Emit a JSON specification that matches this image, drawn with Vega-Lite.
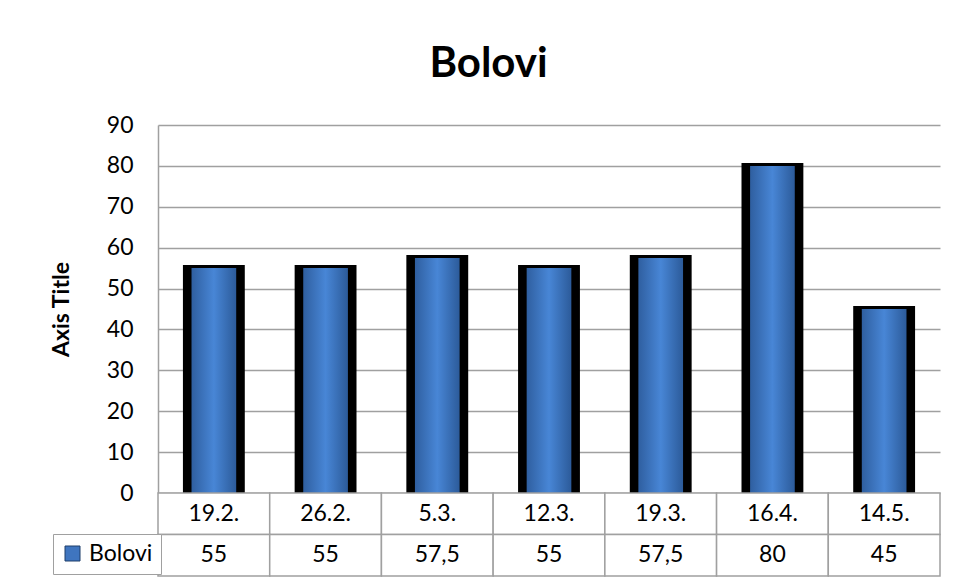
{
  "$schema": "https://vega.github.io/schema/vega-lite/v6.json",
  "background": "white",
  "padding": {"left": 50, "top": 43, "right": 5, "bottom": 5},
  "bounds": "flush",
  "title": {"text": "Bolovi", "font": "Lato", "fontSize": 42, "fontWeight": "bold", "color": "black", "anchor": "middle", "dx": -7, "offset": 28},
  "datasets": {
    "bolovi": [
      {"date": "19.2.", "v": 55},
      {"date": "26.2.", "v": 55},
      {"date": "5.3.", "v": 57.5},
      {"date": "12.3.", "v": 55},
      {"date": "19.3.", "v": 57.5},
      {"date": "16.4.", "v": 80},
      {"date": "14.5.", "v": 45}
    ]
  },
  "config": {
    "locale": {"number": {"decimal": ",", "thousands": ".", "grouping": [3], "currency": ["", " €"]}},
    "view": {"stroke": null},
    "font": "Lato"
  },
  "spacing": 0,
  "resolve": {"legend": {"color": "independent"}},
  "vconcat": [
    {
      "width": 782,
      "height": 368,
      "data": {"name": "bolovi"},
      "encoding": {
        "x": {"field": "date", "type": "nominal", "sort": null, "axis": null, "scale": {"paddingInner": 0, "paddingOuter": 0}}
      },
      "layer": [
        {
          "mark": {"type": "bar", "color": "black", "stroke": "black", "strokeWidth": 6, "width": {"band": 0.5}},
          "encoding": {
            "y": {
              "field": "v", "type": "quantitative",
              "scale": {"domain": [0, 90], "nice": false},
              "axis": {
                "title": "Axis Title", "titleFont": "Lato", "titleFontSize": 23, "titleFontWeight": "bold", "titleColor": "black", "titlePadding": 33,
                "values": [0, 10, 20, 30, 40, 50, 60, 70, 80, 90],
                "labelFont": "Lato", "labelFontSize": 23, "labelColor": "black", "labelPadding": 25,
                "ticks": false, "domainColor": "#a0a0a0", "domainWidth": 1.5,
                "grid": true, "gridColor": "#a0a0a0", "gridWidth": 1.5
              }
            }
          }
        },
        {
          "mark": {
            "type": "bar", "width": {"band": 0.4},
            "color": {"gradient": "linear", "x1": 0, "y1": 0, "x2": 1, "y2": 0,
              "stops": [{"offset": 0, "color": "#2f5fa0"}, {"offset": 0.5, "color": "#4886d6"}, {"offset": 1, "color": "#2c5b9a"}]}
          },
          "encoding": {"y": {"field": "v", "type": "quantitative"}}
        }
      ]
    },
    {
      "width": 782,
      "height": 83,
      "data": {"name": "bolovi"},
      "encoding": {
        "x": {"field": "date", "type": "nominal", "sort": null, "axis": null, "scale": {"paddingInner": 0, "paddingOuter": 0}}
      },
      "layer": [
        {
          "mark": {"type": "rect", "fill": "white", "stroke": "#a0a0a0", "strokeWidth": 1.5},
          "encoding": {"y": {"datum": "d", "type": "nominal", "axis": null, "scale": {"domain": ["d", "v"], "paddingInner": 0, "paddingOuter": 0}}}
        },
        {
          "mark": {"type": "rect", "fill": "white", "stroke": "#a0a0a0", "strokeWidth": 1.5},
          "encoding": {"y": {"datum": "v", "type": "nominal"}}
        },
        {
          "mark": {"type": "text", "font": "Lato", "fontSize": 23, "color": "black"},
          "encoding": {"y": {"datum": "d", "type": "nominal"}, "text": {"field": "date", "type": "nominal"}}
        },
        {
          "mark": {"type": "text", "font": "Lato", "fontSize": 23, "color": "black"},
          "encoding": {"y": {"datum": "v", "type": "nominal"}, "text": {"field": "v", "type": "quantitative", "format": "~g"}}
        },
        {
          "mark": {"type": "square", "opacity": 0, "filled": true},
          "encoding": {
            "y": {"datum": "v", "type": "nominal"},
            "color": {
              "datum": "Bolovi", "type": "nominal",
              "scale": {"range": ["#3f75bf"]},
              "legend": {
                "orient": "none", "legendX": -105, "legendY": 41, "title": null,
                "symbolType": "square", "symbolSize": 225, "symbolOpacity": 1,
                "symbolStrokeColor": "#1f3f6b", "symbolStrokeWidth": 1,
                "labelFont": "Lato", "labelFontSize": 23, "labelColor": "black", "labelOffset": 5,
                "padding": 8, "strokeColor": "#a0a0a0", "fillColor": "white"
              }
            }
          }
        }
      ]
    }
  ]
}
